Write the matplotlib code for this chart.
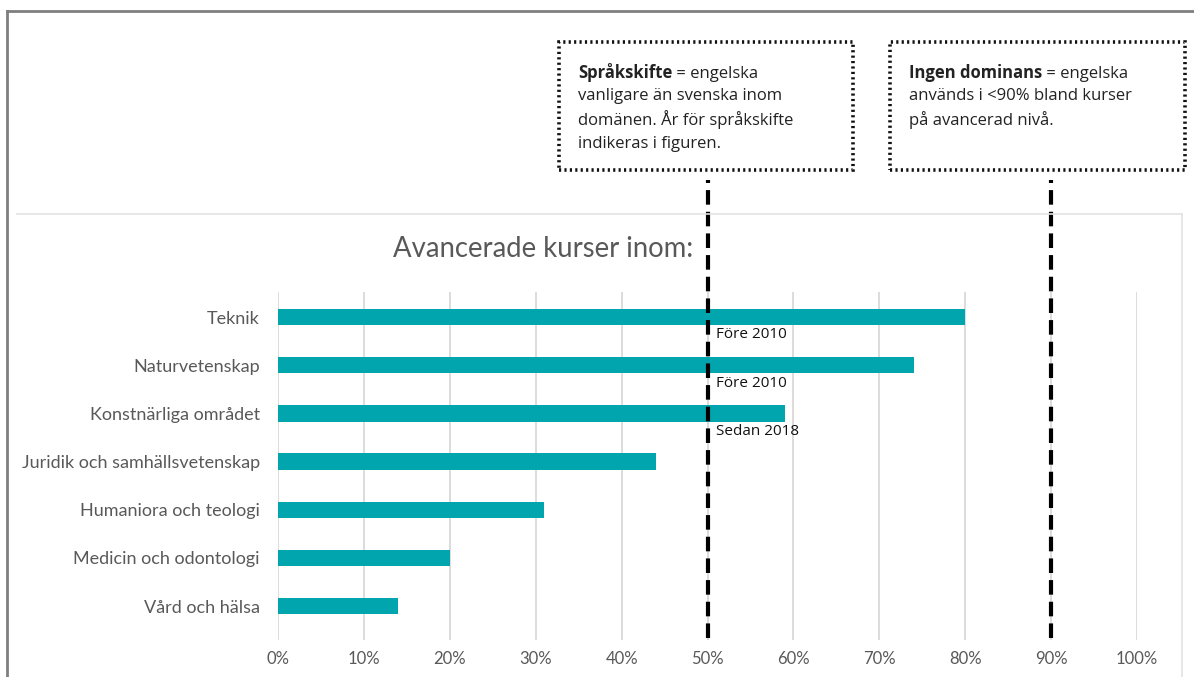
import matplotlib.pyplot as plt
from matplotlib.patches import Rectangle
from matplotlib.lines import Line2D

# Andel engelska i avancerade kurser per domän (%)
domaner = ["Teknik", "Naturvetenskap", "Konstnärliga området",
           "Juridik och samhällsvetenskap", "Humaniora och teologi",
           "Medicin och odontologi", "Vård och hälsa"]
andel = [80, 74, 59, 44, 31, 20, 14]
sprakskifte = {"Teknik": "Före 2010", "Naturvetenskap": "Före 2010",
               "Konstnärliga området": "Sedan 2018"}
troesklar = [50, 90]
xticks = list(range(0, 101, 10))

W, H = 1194, 677
fig = plt.figure(figsize=(W / 100, H / 100), dpi=100)
plt.rcParams['font.family'] = ['Lato', 'DejaVu Sans']


def fx(px):
    return px / W


def fy(py):
    return 1 - py / H


# ram runt hela figuren och runt diagramytan
fig.add_artist(Line2D([fx(7), 1], [fy(11), fy(11)], color='#7f7f7f', lw=2))
fig.add_artist(Line2D([fx(7), fx(7)], [fy(11), 0], color='#7f7f7f', lw=2))
fig.add_artist(Line2D([fx(17), fx(1182)], [fy(214), fy(214)], color='#e3e3e3', lw=1.2))
fig.add_artist(Line2D([fx(1182), fx(1182)], [fy(214), 0], color='#e3e3e3', lw=1.2))

ax = fig.add_axes([fx(278), fy(640), fx(1137 - 278), (640 - 292) / H])
y = list(range(len(domaner)))
ax.barh(y, andel, height=0.34, color='#00A5AD', zorder=2)
ax.set_xlim(0, 100)
ax.set_ylim(6.705, -0.52)
ax.set_xticks(xticks)
ax.set_xticklabels([f"{t}%" for t in xticks], fontsize=12, color='#595959')
ax.set_yticks(y)
ax.set_yticklabels(domaner, fontsize=13, color='#595959')
ax.tick_params(axis='x', length=0, pad=8)
ax.tick_params(axis='y', length=0, pad=13)
ax.grid(axis='x', color='#d9d9d9', lw=1.3, zorder=0)
for s in ax.spines.values():
    s.set_visible(False)

ax.set_title("Avancerade kurser inom:", fontsize=19.8, color='#595959',
             x=(543 - 278) / (1137 - 278), pad=25)

# streckade tröskellinjer för 50 % och 90 %
for t in troesklar:
    ax.axvline(t, ymin=(640 - 638) / 348, ymax=(640 - 180) / 348, color='black',
               lw=3, linestyle=(0, (3.5, 1.7)), clip_on=False, zorder=4)

# år för språkskifte under staplarna
for i, d in enumerate(domaner):
    if d in sprakskifte:
        ax.text(51, i + 0.37, sprakskifte[d], fontsize=11, color='#111111',
                ha='left', va='center', family=['Open Sans', 'DejaVu Sans'])

# förklarande rutor med prickad kant
rutor = [
    (559, 853, "Språkskifte", " = engelska",
     ["vanligare än svenska inom", "domänen. År för språkskifte", "indikeras i figuren."]),
    (890, 1185, "Ingen dominans", " = engelska",
     ["används i <90% bland kurser", "på avancerad nivå."]),
]
for x0, x1, fet, rest, rader in rutor:
    fig.add_artist(Rectangle((fx(x0), fy(170)), fx(x1 - x0), (170 - 42) / H,
                             fill=False, ec='#111111', lw=2.6, linestyle=(0, (0.6, 0.9))))
    tx = fx(x0 + 19)
    t = fig.text(tx, fy(73), fet, fontsize=12, fontweight='bold', color='#222222',
                 va='center', ha='left', family=['Open Sans', 'DejaVu Sans'])
    ann = plt.annotate(rest, xy=(1, 0), xycoords=t, fontsize=12, color='#222222',
                       va='bottom', ha='left', family=['Open Sans', 'DejaVu Sans'],
                       annotation_clip=False)
    ann.remove()
    fig.add_artist(ann)
    for k, r in enumerate(rader):
        fig.text(tx, fy(96.5 + k * 23.5), r, fontsize=12, color='#222222',
                 va='center', ha='left', family=['Open Sans', 'DejaVu Sans'])

fig.savefig("out.png", dpi=100)
